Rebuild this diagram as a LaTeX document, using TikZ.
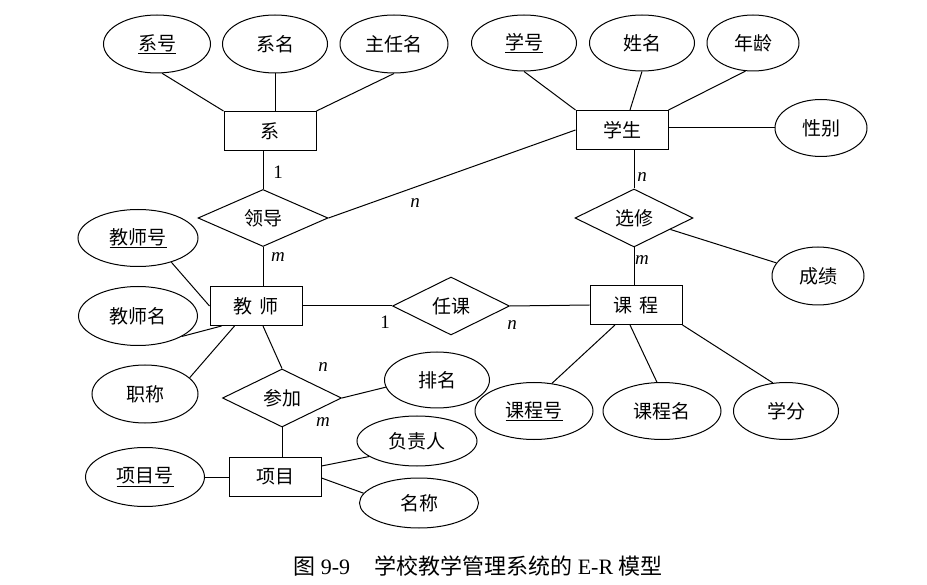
\documentclass[tikz,border=0pt]{standalone}
\usepackage{fontspec}
\setmainfont{Liberation Serif}
\newfontfamily\cjk{Noto Sans CJK SC}
\usetikzlibrary{shapes.geometric,calc}
\begin{document}
\begin{tikzpicture}[x=1pt,y=-1pt,line width=1pt,
  txt/.style={font=\cjk\fontsize{19}{21}\selectfont},
  ent/.style={txt,draw,rectangle,minimum width=92pt,minimum height=39pt,inner sep=0pt},
  attr/.style={txt,draw,ellipse,inner sep=0pt},
  rel/.style={txt,draw,diamond,inner sep=0pt},
  card/.style={font=\fontsize{19}{21}\selectfont\itshape,inner sep=0pt},
  num/.style={font=\fontsize{19}{21}\selectfont,inner sep=0pt}]
\useasboundingbox (0,0) rectangle (927,585);

% entities
\node[ent] (xi) at (270,131) {系};
\node[ent] (xs) at (622,130) {学生};
\node[ent] (js) at (256,306) {教\hspace{0.4em}师};
\node[ent] (kc) at (636,305) {课\hspace{0.4em}程};
\node[ent] (xm) at (275,477) {项目};

% relationships
\node[rel,minimum width=130pt,minimum height=57pt] (ld) at (263,218) {领导};
\node[rel,minimum width=118pt,minimum height=58pt] (xx) at (634,218) {选修};
\node[rel,minimum width=117pt,minimum height=58pt] (rk) at (451,306) {任课};
\node[rel,minimum width=119pt,minimum height=58pt] (cj) at (282,398) {参加};

% attributes
\node[attr,minimum width=107pt,minimum height=58pt] (a1) at (157,44) {\underline{系号}};
\node[attr,minimum width=105pt,minimum height=58pt] (a2) at (275,44) {系名};
\node[attr,minimum width=108pt,minimum height=58pt] (a3) at (394,44) {主任名};
\node[attr,minimum width=105pt,minimum height=56pt] (b1) at (524,43) {\underline{学号}};
\node[attr,minimum width=105pt,minimum height=56pt] (b2) at (642,43) {姓名};
\node[attr,minimum width=92pt,minimum height=56pt] (b3) at (753,43) {年龄};
\node[attr,minimum width=92pt,minimum height=57pt] (b4) at (821,128) {性别};
\node[attr,minimum width=120pt,minimum height=57pt] (e1) at (138,238) {\underline{教师号}};
\node[attr,minimum width=119pt,minimum height=59pt] (e2) at (138,316) {教师名};
\node[attr,minimum width=106pt,minimum height=58pt] (e3) at (145,394) {职称};
\node[attr,minimum width=92pt,minimum height=58pt] (d1) at (818,276) {成绩};
\node[attr,minimum width=105pt,minimum height=56pt] (f1) at (437,380) {排名};
\node[attr,minimum width=118pt,minimum height=57pt] (h1) at (534,411) {\underline{课程号}};
\node[attr,minimum width=118pt,minimum height=57pt] (h2) at (662,411) {课程名};
\node[attr,minimum width=105pt,minimum height=57pt] (h3) at (786,411) {学分};
\node[attr,minimum width=119pt,minimum height=59pt] (g1) at (145,477) {\underline{项目号}};
\node[attr,minimum width=120pt,minimum height=50pt] (g2) at (417,441) {负责人};
\node[attr,minimum width=119pt,minimum height=50pt] (g3) at (419,503) {名称};

% cardinalities
\node[num]  (c1) at (278,172) {1};
\node[card] (c2) at (415,203) {n};
\node[card] (c3) at (278,257) {m};
\node[card] (c4) at (642,177) {n};
\node[card] (c5) at (642,260) {m};
\node[num]  (c7) at (385,322) {1};
\node[card] (c8) at (512,325) {n};
\node[card] (c6) at (323,367) {n};
\node[card] (c9) at (323,422) {m};

% connectors: 系
\draw (a1.-80) -- (xi.north west);
\draw (a2.south) -- (a2.south |- xi.north);
\draw (a3.south) -- (xi.north east);
\draw (ld.north) -- (ld.north |- xi.south);
\draw (ld.east) -- (xs.west);
\draw (ld.south) -- (ld.south |- js.north);
% 学生
\draw (b1.south) -- (xs.north west);
\draw (b2.south) -- ($(xs.north)+(8,0)$);
\draw (b3.-105) -- (xs.north east);
\draw (b4) -- (b4 -| xs.east);
\draw (xx.north) -- (xx.north |- xs.south);
\draw (xx.south) -- (xx.south |- kc.north);
\draw (xx) -- (d1);
% 教师
\draw (e1.-36) -- (js.west);
\draw (e2.-25) -- ($(js.south west)+(12,0)$);
\draw (e3.20) -- ($(js.south west)+(25,0)$);
\draw ($(js.south)+(7,0)$) -- (cj.north);
\draw (js.east) -- (rk.west);
\draw (rk.east) -- (kc.west);
% 参加 / 项目
\draw (cj.east) -- (f1.188);
\draw (cj.south) -- (cj.south |- xm.north);
\draw (g1) -- (xm.west);
\draw ($(xm.east)+(0,-11)$) -- (g2.198);
\draw ($(xm.east)+(0,1)$) -- (g3.170);
% 课程
\draw ($(kc.south)+(-21,0)$) -- (h1.57);
\draw ($(kc.south)+(-6,0)$) -- (h2.100);
\draw (kc.south east) -- (h3.115);

% caption
\node[font=\fontsize{22}{24}\selectfont,inner sep=0pt] (cap) at (478,566)
  {{\cjk 图} 9-9\hspace{1.1em}{\cjk 学校教学管理系统的} E-R {\cjk 模型}};
\end{tikzpicture}
\end{document}
